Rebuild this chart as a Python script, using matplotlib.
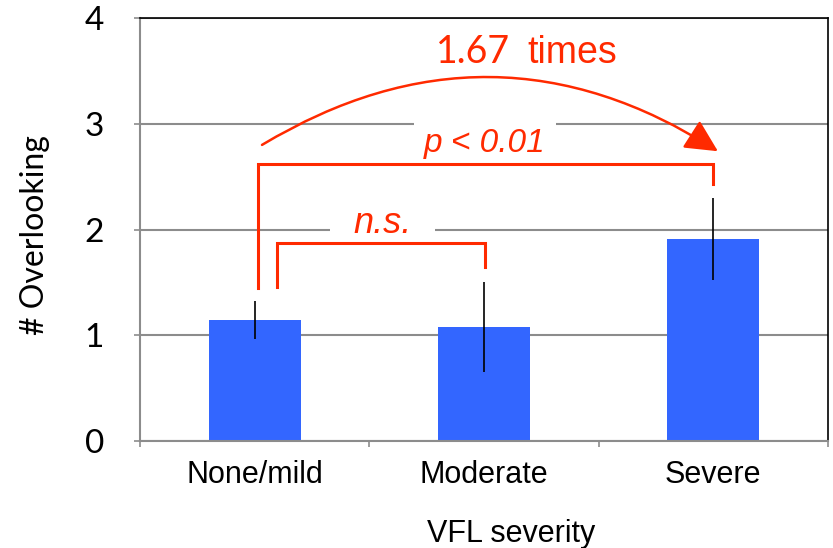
import matplotlib
matplotlib.use("Agg")
import matplotlib.pyplot as plt
from matplotlib.patches import FancyArrowPatch

categories = ["None/mild", "Moderate", "Severe"]
means = [1.14, 1.08, 1.91]
errors = [0.18, 0.425, 0.39]
yticks = [0, 1, 2, 3, 4]

RED = "#ff2a00"
BLUE = "#3366ff"
GRID = "#8c8c8c"

fig = plt.figure(figsize=(8.33, 5.48), dpi=100)
ax = fig.add_axes([140/833, 1-441/548, 688/833, 423/548])

x = list(range(len(categories)))
ax.bar(x, means, width=0.4, color=BLUE, zorder=2)
ax.errorbar(x, means, yerr=errors, fmt="none", ecolor="black", elinewidth=1.2, capsize=0, zorder=3)

ax.set_xlim(-0.5, 2.5)
ax.set_ylim(0, 4)
ax.set_yticks(yticks)
ax.set_yticklabels([str(t) for t in yticks], fontfamily="Lato", fontweight="normal", fontsize=24)
ax.yaxis.grid(True, color=GRID, lw=1.5, zorder=0)
ax.set_axisbelow(True)
ax.tick_params(axis="y", length=4, width=1.2, color=GRID, pad=22)

ax.set_xticks(x)
ax.set_xticklabels(categories, fontfamily="Liberation Sans", fontsize=22)
ax.set_xticks([-0.5, 0.5, 1.5, 2.5], minor=True)
ax.tick_params(axis="x", which="major", length=0, pad=14)
ax.tick_params(axis="x", which="minor", length=4, width=1.2, color=GRID)

for s in ["left", "bottom"]:
    ax.spines[s].set_color(GRID)
    ax.spines[s].set_linewidth(1.5)
for s in ["top", "right"]:
    ax.spines[s].set_color("black")
    ax.spines[s].set_linewidth(1.2)

ax.set_xlabel("VFL severity", fontfamily="Liberation Sans", fontsize=22)
ax.xaxis.label.set_va("baseline")
ax.xaxis.set_label_coords(0.539, -0.239)
ax.set_ylabel("# Overlooking", fontfamily="Lato", fontsize=23)
ax.yaxis.label.set_va("center")
ax.yaxis.set_label_coords(-0.153, 0.487)

# p<0.01 bracket
ax.plot([0.014, 0.014, 2.0, 2.0], [1.447, 2.62, 2.62, 2.43], color=RED, lw=2.2,
        solid_joinstyle="miter", zorder=5)
# n.s. bracket
ax.plot([0.097, 0.097, 1.004, 1.004], [1.456, 1.872, 1.872, 1.645], color=RED, lw=2.2,
        solid_joinstyle="miter", zorder=5)

ax.text(0.557, 1.967, "n.s.", color=RED, fontfamily="Liberation Sans", style="italic",
        fontsize=26, ha="center", va="baseline", zorder=4,
        bbox=dict(boxstyle="square,pad=0.65", fc="white", ec="none"))
ax.text(1.004, 2.733, "p < 0.01", color=RED, fontfamily="Liberation Sans", style="italic",
        fontsize=24, ha="center", va="baseline", zorder=4,
        bbox=dict(boxstyle="square,pad=0.3", fc="white", ec="none"))

arrow = FancyArrowPatch((0.032, 2.80), (2.02, 2.74), connectionstyle="arc3,rad=-0.31",
                        arrowstyle="-|>,head_length=0.5,head_width=0.25", mutation_scale=40,
                        color=RED, lw=1.8, zorder=5, shrinkA=0, shrinkB=0)
ax.add_patch(arrow)

ax.text(1.114, 3.574, "1.67", color=RED, fontfamily="Lato", fontweight="normal",
        fontsize=27, ha="right", va="baseline")
ax.text(1.188, 3.574, "times", color=RED, fontfamily="Liberation Sans",
        fontsize=27, ha="left", va="baseline")

fig.savefig("out.png", dpi=100)
